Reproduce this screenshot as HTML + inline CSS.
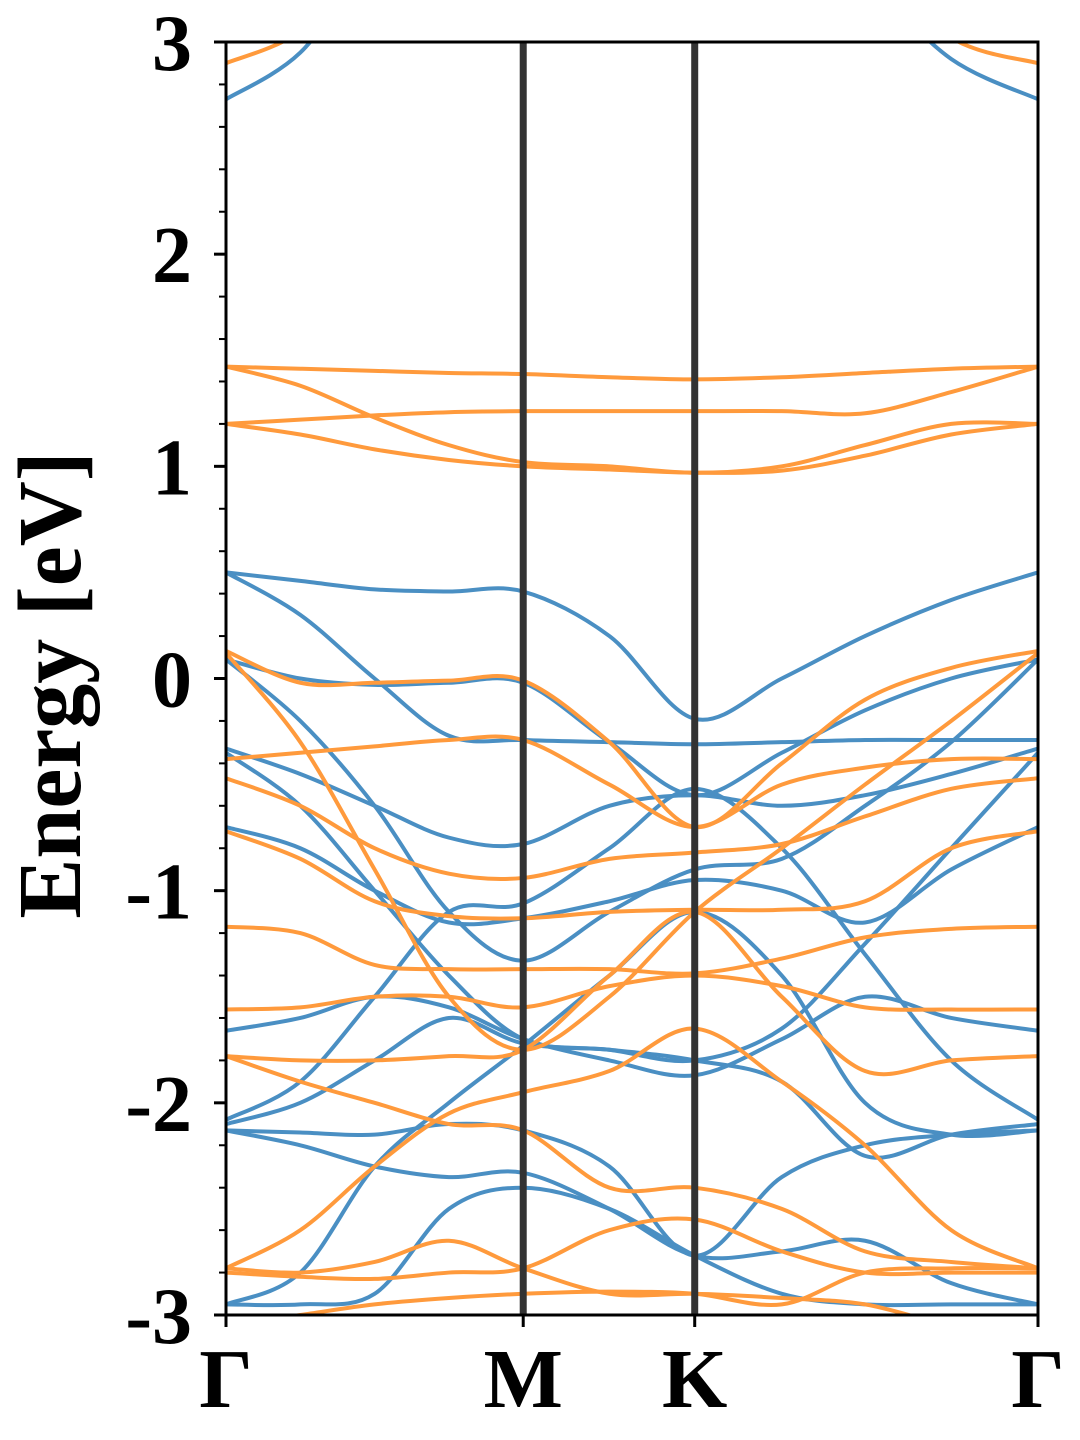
<!DOCTYPE html>
<html><head><meta charset="utf-8"><style>
html,body{margin:0;padding:0;background:#fff;}
svg{display:block;font-family:"Liberation Serif",serif;font-weight:bold;}
</style></head><body>
<svg id="chart" width="1080" height="1440" viewBox="0 0 1080 1440" xmlns="http://www.w3.org/2000/svg">
<defs><clipPath id="plotclip"><rect x="226" y="42" width="812" height="1273"/></clipPath></defs>
<g id="bands" clip-path="url(#plotclip)"></g>
<g id="vlines"></g>
<rect x="226" y="42" width="812" height="1273" fill="none" stroke="#000" stroke-width="3"/>
<g id="axes"></g>
<text transform="translate(80,685) rotate(-90)" text-anchor="middle" font-size="90">Energy [eV]</text>
</svg>
<script>
const kPts = [0,0.25,0.5,0.75,1.0,1.29,1.577,1.87,2.15,2.44,2.732];
const kTickPos = [0,1.0,1.577,2.732];
const kTickLabels = ["Γ","M","K","Γ"];
const yTicks = [3,2,1,0,-1,-2,-3];
const yTickLabels = ["3","2","1","0","-1","-2","-3"];
const blueBands = [
 [0.5,0.46,0.42,0.41,0.41,0.2,-0.19,0.0,0.2,0.37,0.5],
 [0.5,0.3,0.0,-0.27,-0.29,-0.3,-0.31,-0.3,-0.29,-0.29,-0.29],
 [0.09,0.0,-0.03,-0.02,-0.02,-0.3,-0.55,-0.35,-0.15,0.0,0.09],
 [0.09,-0.2,-0.6,-1.1,-1.33,-1.1,-0.9,-0.85,-0.6,-0.3,0.09],
 [-0.33,-0.45,-0.6,-0.75,-0.78,-0.6,-0.55,-0.6,-0.55,-0.45,-0.33],
 [-0.35,-0.6,-1.0,-1.4,-1.7,-1.75,-1.8,-1.65,-1.25,-0.8,-0.35],
 [-0.7,-0.8,-1.0,-1.15,-1.13,-1.05,-0.95,-1.0,-1.15,-0.9,-0.7],
 [-1.66,-1.6,-1.5,-1.55,-1.7,-1.8,-1.87,-1.7,-1.5,-1.6,-1.66],
 [-2.08,-1.9,-1.5,-1.1,-1.06,-0.8,-0.52,-0.8,-1.3,-1.8,-2.08],
 [-2.1,-2.0,-1.8,-1.6,-1.72,-1.75,-1.8,-1.9,-2.25,-2.15,-2.1],
 [-2.13,-2.14,-2.15,-2.1,-2.13,-2.3,-2.72,-2.35,-2.2,-2.15,-2.13],
 [-2.13,-2.2,-2.3,-2.35,-2.33,-2.5,-2.72,-2.7,-2.65,-2.85,-2.95],
 [-2.95,-2.95,-2.9,-2.5,-2.4,-2.5,-2.72,-2.9,-2.95,-2.95,-2.95],
 [-2.95,-2.8,-2.3,-2.0,-1.73,-1.4,-1.1,-1.4,-2.0,-2.15,-2.13],
 [2.73,2.95,3.4,3.6,3.6,3.6,3.6,3.6,3.3,2.92,2.73]
];
const orangeBands = [
 [2.9,3.05,3.4,3.6,3.6,3.6,3.6,3.6,3.4,3.02,2.9],
 [1.47,1.46,1.45,1.44,1.435,1.42,1.41,1.42,1.44,1.46,1.47],
 [1.47,1.38,1.23,1.1,1.02,1.0,0.97,1.0,1.1,1.2,1.2],
 [1.2,1.22,1.24,1.255,1.26,1.26,1.26,1.26,1.25,1.35,1.47],
 [1.2,1.15,1.08,1.03,1.0,0.985,0.97,0.98,1.05,1.15,1.2],
 [0.13,-0.02,-0.02,-0.01,-0.01,-0.3,-0.7,-0.4,-0.1,0.05,0.13],
 [0.12,-0.3,-0.9,-1.5,-1.75,-1.5,-1.1,-0.8,-0.5,-0.2,0.12],
 [-0.38,-0.35,-0.32,-0.29,-0.29,-0.5,-0.7,-0.5,-0.42,-0.38,-0.38],
 [-0.47,-0.6,-0.8,-0.92,-0.94,-0.85,-0.82,-0.78,-0.65,-0.52,-0.47],
 [-0.72,-0.85,-1.05,-1.12,-1.13,-1.1,-1.09,-1.09,-1.05,-0.8,-0.72],
 [-1.17,-1.2,-1.35,-1.37,-1.37,-1.37,-1.39,-1.32,-1.22,-1.18,-1.17],
 [-1.56,-1.55,-1.5,-1.5,-1.55,-1.45,-1.4,-1.45,-1.55,-1.56,-1.56],
 [-1.78,-1.8,-1.8,-1.78,-1.75,-1.4,-1.1,-1.5,-1.85,-1.8,-1.78],
 [-1.78,-1.9,-2.0,-2.1,-2.13,-2.4,-2.4,-2.5,-2.7,-2.75,-2.78],
 [-2.78,-2.6,-2.3,-2.05,-1.95,-1.85,-1.65,-1.9,-2.2,-2.6,-2.78],
 [-2.78,-2.8,-2.75,-2.65,-2.78,-2.9,-2.9,-2.92,-2.95,-3.05,-3.1],
 [-2.8,-2.82,-2.83,-2.8,-2.78,-2.6,-2.55,-2.7,-2.8,-2.8,-2.8],
 [-3.05,-3.0,-2.95,-2.92,-2.9,-2.89,-2.9,-2.95,-2.8,-2.78,-2.78]
];
const NS="http://www.w3.org/2000/svg";
const X0=226,X1=1038,Y0=42,Y1=1315,EMIN=-3,EMAX=3,KMAX=2.732;
function xs(k){return X0+(k/KMAX)*(X1-X0);}
function ys(e){return Y1-(e-EMIN)/(EMAX-EMIN)*(Y1-Y0);}
function pathFor(vals){
  const p=kPts.map((k,i)=>[xs(k),ys(vals[i])]);
  let d="M"+p[0][0]+","+p[0][1];
  for(let i=0;i<p.length-1;i++){
    const a=p[Math.max(i-1,0)],b=p[i],c=p[i+1],e=p[Math.min(i+2,p.length-1)];
    const c1=[b[0]+(c[0]-a[0])/6,b[1]+(c[1]-a[1])/6];
    const c2=[c[0]-(e[0]-b[0])/6,c[1]-(e[1]-b[1])/6];
    d+=" C"+c1[0]+","+c1[1]+" "+c2[0]+","+c2[1]+" "+c[0]+","+c[1];
  }
  return d;
}
const gB=document.getElementById('bands');
blueBands.forEach(v=>{
  const el=document.createElementNS(NS,'path');
  
  
  el.setAttribute('d',pathFor(v));el.setAttribute('fill','none');
  el.setAttribute('stroke','#4a8fc3');el.setAttribute('stroke-width','4');
  gB.appendChild(el);
});
orangeBands.forEach(v=>{
  const el=document.createElementNS(NS,'path');
  
  
  el.setAttribute('d',pathFor(v));el.setAttribute('fill','none');
  el.setAttribute('stroke','#ff9a3c');el.setAttribute('stroke-width','4');
  gB.appendChild(el);
});
const gV=document.getElementById('vlines');
[1.0,1.577].forEach(k=>{
  const el=document.createElementNS(NS,'line');
  
  
  el.setAttribute('x1',xs(k));el.setAttribute('x2',xs(k));el.setAttribute('y1',Y0);el.setAttribute('y2',Y1);
  el.setAttribute('stroke','#333');el.setAttribute('stroke-width','7');
  gV.appendChild(el);
});
const gA=document.getElementById('axes');
yTicks.forEach((t,i)=>{
  const el=document.createElementNS(NS,'line');
  
  
  el.setAttribute('x1',X0-12);el.setAttribute('x2',X0);el.setAttribute('y1',ys(t));el.setAttribute('y2',ys(t));
  el.setAttribute('stroke','#000');el.setAttribute('stroke-width','3');gA.appendChild(el);
  const tx=document.createElementNS(NS,'text');
  
  
  tx.setAttribute('x',X0-34);tx.setAttribute('y',ys(t)+28);tx.setAttribute('text-anchor','end');tx.setAttribute('font-size','80');
  tx.textContent=yTickLabels[i];gA.appendChild(tx);
});
for(let e=-3;e<3;e+=1){for(let j=1;j<5;j++){
  const v=e+j*0.2;
  const el=document.createElementNS(NS,'line');
  
  
  el.setAttribute('x1',X0-7);el.setAttribute('x2',X0);el.setAttribute('y1',ys(v));el.setAttribute('y2',ys(v));
  el.setAttribute('stroke','#000');el.setAttribute('stroke-width','2');gA.appendChild(el);
}}
kTickPos.forEach((k,i)=>{
  const el=document.createElementNS(NS,'line');
  
  
  el.setAttribute('x1',xs(k));el.setAttribute('x2',xs(k));el.setAttribute('y1',Y1);el.setAttribute('y2',Y1+12);
  el.setAttribute('stroke','#000');el.setAttribute('stroke-width','3');gA.appendChild(el);
  const tx=document.createElementNS(NS,'text');
  
  
  tx.setAttribute('x',xs(k));tx.setAttribute('y',1407);tx.setAttribute('text-anchor','middle');tx.setAttribute('font-size','84');
  tx.textContent=kTickLabels[i];gA.appendChild(tx);
});
</script>
</body></html>
